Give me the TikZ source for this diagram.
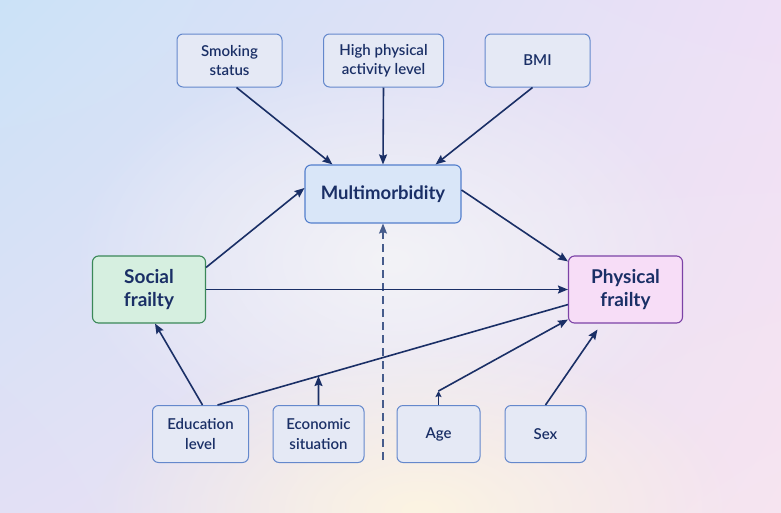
\documentclass[tikz,border=0pt]{standalone}
\usepackage{fontspec}
\setmainfont{Lato}
\newfontfamily\medfont{Lato Semibold}
\usepackage{tikz}
\usetikzlibrary{arrows.meta, positioning, calc, fadings, shadings}
\definecolor{mynavy}{RGB}{26,47,102}
\definecolor{mydash}{RGB}{70,92,140}
\definecolor{myblue}{RGB}{100,136,204}
\definecolor{boxfill}{RGB}{229,233,245}
\definecolor{mmfill}{RGB}{217,230,248}
\definecolor{mmdraw}{RGB}{82,126,204}
\definecolor{socfill}{RGB}{214,239,224}
\definecolor{socdraw}{RGB}{58,136,88}
\definecolor{phyfill}{RGB}{247,221,247}
\definecolor{phydraw}{RGB}{124,66,166}
\definecolor{bgtl}{RGB}{203,226,247}
\definecolor{bgtr}{RGB}{238,224,246}
\definecolor{bgbl}{RGB}{226,224,245}
\definecolor{bgbr}{RGB}{246,228,240}
\definecolor{bgcream}{RGB}{252,244,226}
\definecolor{bgmid}{RGB}{243,243,247}
\tikzfading[name=glow, inner color=transparent!0, outer color=transparent!100]
\tikzset{
  block/.style={rectangle, draw=myblue, fill=boxfill, align=center,
    font=\medfont\fontsize{15}{19.5}\selectfont, text=mynavy, inner sep=0pt,
    rounded corners=6pt, line width=1pt},
  mainblock/.style={block, font=\bfseries\fontsize{19}{23.5}\selectfont, line width=1.1pt},
  arrow/.style={-{Stealth[length=10pt, width=8pt, inset=1.5pt]}, line width=1.6pt, color=mynavy},
  smallarrow/.style={-{Stealth[length=6pt, width=6pt, inset=1pt]}, line width=1.6pt, color=mynavy},
  line/.style={line width=1.6pt, color=mynavy}
}

\begin{document}
\begin{tikzpicture}[x=1pt, y=-1pt]
    \useasboundingbox (0,0) rectangle (781,512);
    % Background
    \shade[upper left=bgtl, upper right=bgtr, lower left=bgbl, lower right=bgbr] (0,0) rectangle (781,512);
    \fill[bgmid, path fading=glow] (390,260) ellipse (320 and 210);
    \fill[bgcream, path fading=glow] (420,510) ellipse (320 and 170);

    % Top factors
    \node[block, minimum width=105, minimum height=53] (smoking) at (229.5,60.5) {Smoking\\status};
    \node[block, minimum width=120, minimum height=53] (highpa) at (383.5,60.5) {High physical\\activity level};
    \node[block, minimum width=105, minimum height=53] (bmi) at (537.5,60.5) {BMI};

    % Main nodes
    \node[mainblock, fill=mmfill, draw=mmdraw, font=\bfseries\fontsize{18.5}{22}\selectfont,
      minimum width=156, minimum height=58] (multi) at (383,194) {Multimorbidity};
    \node[mainblock, fill=socfill, draw=socdraw, minimum width=113, minimum height=67] (social) at (149,289.5) {Social\\frailty};
    \node[mainblock, fill=phyfill, draw=phydraw, minimum width=114, minimum height=67] (physical) at (625.5,289.5) {Physical\\frailty};

    % Bottom factors
    \node[block, minimum width=96, minimum height=57] (edu) at (200.5,434) {Education\\level};
    \node[block, minimum width=91, minimum height=57] (econ) at (318.5,434) {Economic\\situation};
    \node[block, minimum width=83, minimum height=57] (age) at (438.5,434) {Age};
    \node[block, minimum width=81, minimum height=57] (sex) at (545.5,434) {Sex};

    % Into Multimorbidity
    \draw[arrow] ($(smoking.south)+(7,0)$) -- ($(multi.north west)+(28,0)$);
    \draw[arrow] (highpa.south) -- (multi.north);
    \draw[arrow] ($(bmi.south)+(-5,0)$) -- ($(multi.north east)+(-26,0)$);
    \draw[arrow] ($(social.north east)+(0,12)$) -- ($(multi.west)+(0,-6)$);
    \coordinate (dashfoot) at (383,460);
    \draw[arrow, color=mydash, line width=1.3pt, dash pattern=on 8pt off 5pt] (dashfoot) -- (multi.south);

    % Into Physical frailty
    \draw[arrow] (social.east) -- (physical.west);
    \draw[arrow] ($(multi.east)+(0,-4)$) -- ($(physical.north west)+(0,6)$);
    \coordinate (edutop) at ($(edu.north)+(17,0)$);
    \coordinate (phyin) at ($(physical.south west)+(0,-19)$);
    \draw[line] (edutop) -- (phyin);
    \coordinate (hit) at (intersection of edutop--phyin and econ.center--econ.north);
    \draw[arrow] (econ.north) -- (hit);
    \draw[smallarrow] (age.north) -- ++(0,-14) coordinate (agebend);
    \draw[arrow] (agebend) -- ($(physical.south west)+(0,-4)$);
    \draw[arrow] (sex.north) -- ($(physical.south)+(-28,6)$);

    % Into Social frailty
    \draw[arrow] ($(edu.north)+(2,0)$) -- ($(social.south)+(6,0)$);
\end{tikzpicture}
\end{document}
